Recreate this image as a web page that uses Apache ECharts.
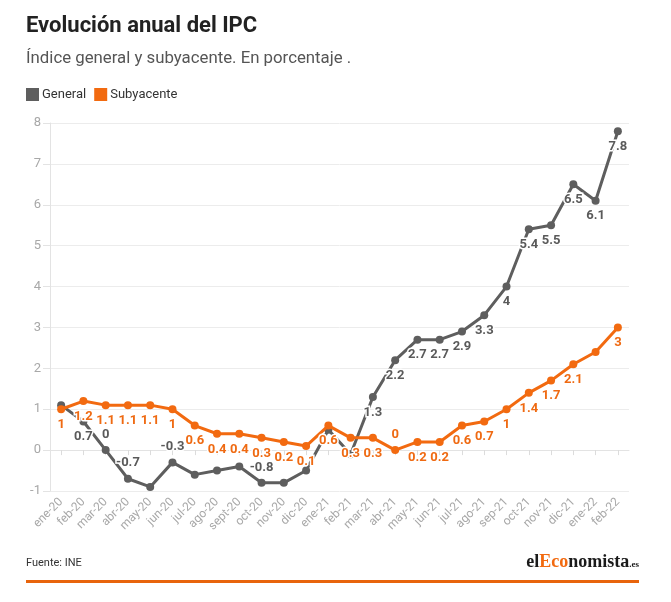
<!DOCTYPE html>
<html>
<head>
<meta charset="utf-8">
<script src="https://cdn.jsdelivr.net/npm/echarts@6/dist/echarts.min.js"></script>
<style>
html,body{margin:0;padding:0;background:#fff;}
#chart{width:671px;height:602px;}
</style>
</head>
<body>
<div id="chart"></div>
<script>
const categories = ['ene-20','feb-20','mar-20','abr-20','may-20','jun-20','jul-20','ago-20','sept-20','oct-20','nov-20','dic-20',
  'ene-21','feb-21','mar-21','abr-21','may-21','jun-21','jul-21','ago-21','sep-21','oct-21','nov-21','dic-21','ene-22','feb-22'];
const general = [1.1,0.7,0,-0.7,-0.9,-0.3,-0.6,-0.5,-0.4,-0.8,-0.8,-0.5,0.5,-0.1,1.3,2.2,2.7,2.7,2.9,3.3,4,5.4,5.5,6.5,6.1,7.8];
const subyacente = [1,1.2,1.1,1.1,1.1,1,0.6,0.4,0.4,0.3,0.2,0.1,0.6,0.3,0.3,0,0.2,0.2,0.6,0.7,1,1.4,1.7,2.1,2.4,3];
const yTicks = [-1,0,1,2,3,4,5,6,7,8];

// label placement per point ('top', 'bottom', or null = hidden)
const generalLabelPos = [null,'bottom','top','top',null,'top',null,null,null,'top',null,null,null,null,
  'bottom','bottom','bottom','bottom','bottom','bottom','bottom','bottom','bottom','bottom','bottom','bottom'];
const subLabelPos = ['bottom','bottom','bottom','bottom','bottom','bottom','bottom','bottom','bottom','bottom','bottom','bottom',
  'bottom','bottom','bottom','top','bottom','bottom','bottom','bottom','bottom','bottom','bottom','bottom',null,'bottom'];

const GRAY = '#5e5e5e';
const ORANGE = '#f26a10';

function build(values, pos) {
  return values.map((v, i) => ({
    value: v,
    label: pos[i] ? { show: true, position: pos[i] } : { show: false }
  }));
}

const chart = echarts.init(document.getElementById('chart'), null, {renderer: 'canvas'});
const labelBase = (color) => ({
  show: true,
  fontFamily: 'Roboto',
  fontSize: 13,
  fontWeight: 'bold',
  color: color,
  textBorderColor: '#fff',
  textBorderWidth: 3,
  distance: 5
});

chart.setOption({
  animation: false,
  textStyle: { fontFamily: 'Roboto' },
  legend: {
    left: 21, top: 83,
    icon: 'rect', itemWidth: 13, itemHeight: 13, itemGap: 8,
    textStyle: { fontSize: 13, color: '#333', padding: [0,0,0,-2] },
    data: ['General','Subyacente']
  },
  grid: { left: 50, right: 42, top: 123, bottom: 111 },
  xAxis: {
    type: 'category',
    data: categories,
    boundaryGap: true,
    axisLine: { show: true, lineStyle: { color: '#e3e3e3' } },
    axisTick: { show: true, alignWithLabel: true, length: 5, lineStyle: { color: '#dcdcdc' } },
    axisLabel: { rotate: 45, fontSize: 12, color: '#a8a8a8', interval: 0, margin: 9 }
  },
  yAxis: {
    type: 'value',
    min: yTicks[0], max: yTicks[yTicks.length-1], interval: 1,
    axisLine: { show: true, lineStyle: { color: '#e3e3e3' } },
    axisTick: { show: true, length: 7, lineStyle: { color: '#e3e3e3' } },
    axisLabel: { fontSize: 13, color: '#a8a8a8', margin: 9 },
    splitLine: { lineStyle: { color: '#ececec' } }
  },
  series: [
    {
      name: 'General', type: 'line', data: build(general, generalLabelPos),
      color: GRAY,
      lineStyle: { width: 3, color: GRAY },
      itemStyle: { color: GRAY },
      symbol: 'circle', symbolSize: 8,
      label: labelBase('#5a5a5a'),
      z: 2
    },
    {
      name: 'Subyacente', type: 'line', data: build(subyacente, subLabelPos),
      color: ORANGE,
      lineStyle: { width: 3, color: ORANGE },
      itemStyle: { color: ORANGE },
      symbol: 'circle', symbolSize: 8,
      label: labelBase('#ef6a12'),
      z: 3
    }
  ],
  graphic: [
    { type: 'text', left: 26, top: 15, style: { text: 'Evolución anual del IPC', font: 'bold 22px Roboto', fill: '#222' } },
    { type: 'text', left: 26, top: 50, style: { text: 'Índice general y subyacente. En porcentaje .', font: '16.8px Roboto', fill: '#555' } },
    { type: 'text', left: 26, top: 558, style: { text: 'Fuente: INE', font: '11px Roboto', fill: '#333' } },
    { type: 'text', right: 32, top: 553, style: {
        text: '{a|el}{b|Eco}{a|nomista}{c|.es}',
        rich: {
          a: { font: 'bold 18px "Liberation Serif"', fill: '#1a1a1a' },
          b: { font: 'bold 18px "Liberation Serif"', fill: ORANGE },
          c: { font: 'bold 9px "Liberation Serif"', fill: '#1a1a1a', padding: [6,0,0,0] }
        }
      } },
    { type: 'rect', shape: { x: 26, y: 580, width: 613, height: 3 }, style: { fill: '#e8640c' } }
  ]
});
</script>
</body>
</html>
